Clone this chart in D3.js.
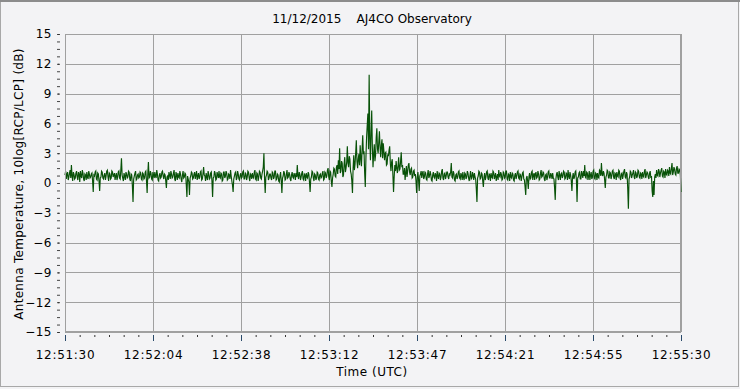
<!DOCTYPE html>
<html>
<head>
<meta charset="utf-8">
<script src="https://cdn.jsdelivr.net/npm/d3@7"></script>
<style>
  body { margin: 0; background: #f3f3f5; }
  svg { display: block; }
  text { font-family: "DejaVu Sans", Verdana, sans-serif; fill: #000; }
</style>
</head>
<body>
<script>
var chartWidth = 740;
var chartHeight = 389;

var chartTitle = "11/12/2015    AJ4CO Observatory";
var xTitle = "Time (UTC)";
var yTitle = "Antenna Temperature, 10log[RCP/LCP] (dB)";

// seconds after 12:51:30, one sample every quarter second
var sampleStep = 0.25;
var xTickLabels = ["12:51:30", "12:52:04", "12:52:38", "12:53:12", "12:53:47", "12:54:21", "12:54:55", "12:55:30"];
var yTickValues = [15, 12, 9, 6, 3, 0, -3, -6, -9, -12, -15];

// 10log[RCP/LCP] in dB (one row = 10 s)
var antTemp = [
  0.8,1.2,0.4,0.9,1.1,0.3,0.6,1.0,1.3,0.5,1.8,0.7,0.2,1.1,0.9,0.4,0.5,1.0,1.2,0.6,0.3,1.1,0.9,0.1,1.2,0.7,0.5,1.3,1.0,0.4,0.2,0.9,0.8,0.3,1.1,0.6,0.4,1.2,0.9,0.5,
  0.6,0.9,1.0,0.2,-0.9,0.8,0.7,1.1,1.2,0.4,0.3,1.0,0.9,0.2,-0.8,0.5,0.6,1.2,1.1,0.5,0.4,0.8,1.0,0.3,0.7,1.2,1.3,0.6,0.2,1.0,0.9,0.4,0.5,1.2,1.1,0.6,0.8,1.0,0.3,0.7,
  1.0,0.3,0.6,1.1,1.2,0.5,0.4,1.3,2.5,0.8,0.5,0.2,1.0,0.7,0.3,1.1,0.9,0.5,0.6,1.2,1.1,0.4,0.2,0.9,0.8,-0.3,-1.9,0.4,0.7,1.0,1.2,0.3,0.4,0.8,0.9,0.5,0.6,1.1,1.0,0.4,
  0.3,1.0,0.9,0.4,0.5,1.1,1.2,0.2,-1.0,0.9,2.1,0.5,0.6,1.2,1.0,0.4,0.3,1.1,0.8,0.5,1.1,0.7,0.5,1.3,0.9,0.3,0.2,0.8,1.0,0.5,0.6,1.1,1.2,0.7,0.4,0.9,0.8,0.2,-0.5,0.6,
  0.7,0.3,1.1,0.8,0.4,1.2,0.9,0.5,0.6,1.0,1.3,0.4,0.2,1.1,0.8,0.3,1.0,0.6,0.5,1.2,0.9,0.4,0.1,0.8,1.2,0.5,0.6,1.0,0.9,-0.2,-1.4,0.7,0.4,0.1,-1.2,0.5,0.7,1.1,1.0,0.4,
  0.5,0.9,1.1,0.4,0.8,1.2,0.3,0.7,1.0,0.4,0.6,1.1,1.2,0.3,0.4,0.9,1.6,0.8,0.7,0.2,1.0,0.6,0.3,1.2,0.9,0.4,0.5,1.0,1.1,0.2,-1.4,0.5,0.6,1.2,1.0,0.3,0.4,1.1,0.8,0.5,
  1.2,0.6,0.5,1.0,0.9,0.2,0.3,1.1,1.1,0.5,0.7,1.2,1.0,0.3,0.4,0.9,0.8,0.4,1.3,0.7,0.2,-0.2,-0.9,0.4,0.7,1.0,1.1,0.3,0.5,1.2,0.9,0.4,0.3,0.8,1.0,0.5,0.6,1.1,1.2,0.4,
  0.4,1.0,0.9,0.3,0.6,1.2,1.1,0.5,0.2,0.9,0.8,0.4,1.0,0.6,0.5,1.1,1.3,0.4,0.3,1.0,0.9,0.2,0.6,1.2,1.1,0.5,0.4,0.9,1.2,1.6,3.0,0.4,-1.0,0.6,0.8,1.2,1.1,0.3,0.5,0.9,
  0.9,0.5,0.3,1.1,1.0,0.4,0.6,1.2,1.2,0.3,0.4,0.9,0.8,0.2,0.1,0.7,1.1,0.2,-1.0,0.5,0.7,1.2,1.0,0.3,0.4,0.9,1.3,0.5,0.6,1.1,0.9,0.4,0.2,0.8,1.1,0.6,0.5,1.0,0.8,0.3,
  1.0,0.6,1.8,0.7,0.4,1.1,0.9,0.3,0.6,1.0,1.2,0.4,0.3,0.9,0.8,0.2,1.0,0.6,0.5,1.1,0.9,0.1,-0.9,0.4,0.6,1.2,1.1,0.5,0.2,0.9,0.8,0.3,0.5,1.1,1.0,0.4,0.3,0.8,0.9,0.5,
  0.6,1.0,1.2,0.3,0.4,1.1,1.0,0.5,0.7,1.3,1.5,0.6,0.3,1.2,1.1,0.2,-0.4,0.5,0.9,1.5,1.4,0.7,0.6,1.6,1.8,0.9,2.3,1.4,3.5,1.0,1.2,2.2,2.0,0.6,0.8,1.9,2.6,1.1,1.5,2.1,
  3.7,2.0,1.6,2.7,2.4,1.2,0.9,0.2,-1.0,1.5,2.8,1.3,1.9,3.0,4.3,2.2,1.5,2.4,2.9,1.8,3.8,2.5,1.7,3.4,4.8,2.9,3.2,1.0,-0.4,2.6,4.6,5.8,7.0,3.4,10.9,4.5,2.3,5.1,7.3,3.6,
  1.6,2.9,3.9,2.2,2.8,4.6,5.5,3.4,3.0,4.1,5.2,3.6,2.6,3.8,4.4,2.5,4.0,3.2,2.3,3.0,3.1,1.8,1.9,2.9,2.7,3.3,3.7,2.0,1.2,2.1,2.4,0.8,-0.9,0.6,1.8,1.2,2.2,1.5,1.0,1.7,
  2.6,1.3,1.4,2.2,3.1,1.6,1.8,0.9,0.9,1.5,0.3,1.0,1.7,0.6,1.2,1.8,2.0,1.1,0.8,1.4,1.5,0.5,0.6,1.2,1.3,0.7,0.9,0.2,-1.0,0.6,1.1,0.3,-0.8,0.7,0.9,1.2,0.5,1.0,1.2,0.4,
  0.6,1.1,1.0,0.4,0.3,0.9,1.3,0.5,0.7,1.2,0.9,0.3,0.2,0.8,1.1,0.6,0.5,1.0,0.8,0.2,1.2,0.7,0.4,1.0,0.9,0.3,0.6,1.2,1.4,0.5,0.3,0.9,1.0,0.4,0.7,1.1,1.1,0.6,0.4,0.9,
  0.8,1.1,2.0,0.6,0.5,1.2,1.0,0.3,0.2,0.8,0.9,0.4,0.6,1.1,1.2,0.5,0.4,1.0,0.8,0.3,1.1,0.6,0.3,1.0,0.9,0.4,0.6,1.2,1.0,0.5,0.2,0.7,1.2,0.4,0.5,1.1,0.8,0.3,1.0,0.6,
  0.4,-0.6,-1.9,0.5,0.7,1.2,1.1,0.4,0.5,1.0,0.9,0.2,-0.4,0.6,1.0,0.3,0.6,1.1,1.2,0.5,0.3,0.9,0.8,0.2,1.0,0.6,0.5,1.2,1.1,0.4,0.7,1.0,0.2,0.6,0.9,0.3,1.3,0.7,0.6,1.1,
  0.9,0.3,0.4,1.1,1.0,0.5,0.6,1.2,1.2,0.4,0.3,0.9,0.8,0.2,1.1,0.6,0.5,1.0,0.9,0.3,0.2,0.8,1.0,0.4,0.7,1.1,1.2,0.5,0.4,0.9,0.8,0.2,0.6,1.0,1.1,0.4,0.3,-0.4,-1.2,0.5,
  0.7,0.2,-0.6,0.6,1.0,0.4,0.5,1.1,1.2,0.3,0.8,1.0,0.3,0.9,1.1,0.5,0.6,1.2,0.9,0.3,0.4,1.0,1.3,0.6,0.7,1.1,1.0,0.4,0.2,0.8,0.9,0.3,0.6,1.1,1.2,0.5,0.5,1.0,0.8,0.4,
  1.0,0.5,0.4,-0.5,-1.7,0.4,0.9,1.1,0.6,0.3,1.2,0.8,0.3,0.9,1.0,0.5,0.7,1.2,1.1,0.4,0.5,1.0,0.9,0.3,1.3,0.7,0.4,1.1,0.8,0.2,-0.8,0.6,1.0,0.4,0.6,1.1,1.2,0.3,-1.9,0.5,
  0.6,1.0,1.1,0.4,0.4,1.2,0.9,0.5,1.2,0.7,1.8,0.6,0.5,1.1,1.0,0.3,0.7,1.2,0.3,0.8,1.1,0.4,0.6,1.2,1.3,0.5,0.4,1.0,0.9,0.3,1.0,0.6,0.5,1.3,1.2,0.7,2.0,0.9,0.7,1.2,
  1.0,0.3,-0.5,0.6,0.8,1.3,1.2,0.5,0.5,1.1,1.0,0.4,0.7,1.2,1.3,0.6,0.4,1.0,0.9,0.3,1.1,0.7,0.6,1.3,1.2,0.5,0.3,0.9,1.0,0.4,0.8,1.2,1.4,0.6,0.5,1.1,0.9,-0.6,-2.6,0.4,
  0.6,1.2,1.1,0.5,0.8,1.0,1.3,0.6,0.4,1.1,1.0,0.5,0.7,1.3,1.2,0.6,0.5,1.0,0.9,0.4,1.1,0.7,0.6,1.2,1.4,0.5,0.8,1.1,1.0,0.6,0.4,1.0,1.2,0.5,0.7,-0.8,-1.4,0.2,-1.2,0.6,
  0.9,0.5,1.3,0.8,0.7,1.4,1.2,0.6,1.0,1.3,1.5,0.7,0.6,1.2,1.1,0.5,1.4,0.9,0.8,1.3,1.2,0.7,1.6,1.0,0.9,1.5,2.0,0.8,1.1,1.6,1.4,0.9,0.8,1.5,1.7,1.0,1.0,1.4,1.3,0.8,
  -0.9
];

var plotLeft = 65, plotRight = 681, plotTop = 34, plotBottom = 332;
var totalSec = 240;

var svg = d3.select("body").append("svg").attr("width", chartWidth).attr("height", chartHeight);

// outer frame
svg.append("rect").attr("x", 0.5).attr("y", 0.5).attr("width", chartWidth - 2).attr("height", chartHeight - 3)
  .attr("fill", "#f3f3f5").attr("stroke", "#a8a8a8");
svg.append("line").attr("x1", 0).attr("x2", chartWidth).attr("y1", 1).attr("y2", 1)
  .attr("stroke", "#8c8c8c").attr("stroke-width", 2);

var x = d3.scaleLinear().domain([0, totalSec]).range([plotLeft, plotRight]);
var y = d3.scaleLinear().domain([-15, 15]).range([plotBottom, plotTop]);
// spread the samples over the whole time span
var sampleX = d3.scaleLinear().domain([0, antTemp.length - 1]).range([0, totalSec]);

var majorSec = xTickLabels.map(function(d, i) { return i * totalSec / (xTickLabels.length - 1); });
var minorSec = d3.range(0, (xTickLabels.length - 1) * 6 + 1).map(function(i) { return i * totalSec / ((xTickLabels.length - 1) * 6); });
var minorDb = d3.range(-15, 15.001, 0.75);

// grid
var grid = svg.append("g").attr("stroke", "#a0a0a0").attr("stroke-width", 1).attr("shape-rendering", "crispEdges");
grid.selectAll(".vg").data(majorSec).enter().append("line")
  .attr("x1", function(d) { return Math.round(x(d)) + 0.5; })
  .attr("x2", function(d) { return Math.round(x(d)) + 0.5; })
  .attr("y1", plotTop).attr("y2", plotBottom);
grid.selectAll(".hg").data(yTickValues).enter().append("line")
  .attr("x1", plotLeft).attr("x2", plotRight)
  .attr("y1", function(d) { return Math.round(y(d)) + 0.5; })
  .attr("y2", function(d) { return Math.round(y(d)) + 0.5; });

// trace
var line = d3.line()
  .x(function(d, i) { return x(sampleX(i)); })
  .y(function(d) { return y(d); });
svg.append("path").datum(antTemp)
  .attr("d", line)
  .attr("fill", "none")
  .attr("stroke", "#085208")
  .attr("stroke-width", 1.15);

// x axis: minor then major ticks with labels
var xMinor = svg.append("g").attr("transform", "translate(0," + (plotBottom + 3) + ")")
  .call(d3.axisBottom(x).tickValues(minorSec).tickSize(2).tickFormat(""));
xMinor.select(".domain").remove();
xMinor.selectAll("line").attr("stroke", "#333");

var xAxis = svg.append("g").attr("transform", "translate(0," + (plotBottom + 3) + ")")
  .call(d3.axisBottom(x).tickValues(majorSec).tickSize(6).tickPadding(9)
    .tickFormat(function(d, i) { return xTickLabels[i]; }));
xAxis.select(".domain").remove();
xAxis.selectAll("line").attr("stroke", "#2a4a6a");
xAxis.selectAll("text").attr("font-size", 12).attr("letter-spacing", 0.7)
  .style("font-family", "DejaVu Sans, Verdana, sans-serif");

// y axis: minor dashes, major dots with labels
var yMinor = svg.append("g").attr("transform", "translate(60,0)")
  .call(d3.axisLeft(y).tickValues(minorDb).tickSize(3).tickFormat(""));
yMinor.select(".domain").remove();
yMinor.selectAll("line").attr("stroke", "#444");

var yAxis = svg.append("g").attr("transform", "translate(59,0)")
  .call(d3.axisLeft(y).tickValues(yTickValues).tickSize(1).tickPadding(6));
yAxis.select(".domain").remove();
yAxis.selectAll("line").attr("stroke", "#333");
yAxis.selectAll("text").attr("font-size", 12).attr("letter-spacing", 0.5)
  .style("font-family", "DejaVu Sans, Verdana, sans-serif");

// plot border
svg.append("rect").attr("x", plotLeft + 0.5).attr("y", plotTop + 0.5)
  .attr("width", plotRight - plotLeft - 1).attr("height", plotBottom - plotTop - 1)
  .attr("fill", "none").attr("stroke", "#a0a0a0").attr("shape-rendering", "crispEdges");

// titles
svg.append("text").attr("x", 372).attr("y", 23).attr("text-anchor", "middle")
  .attr("font-size", 12).attr("xml:space", "preserve").text(chartTitle);
svg.append("text").attr("x", 372).attr("y", 376).attr("text-anchor", "middle")
  .attr("font-size", 12).attr("letter-spacing", 0.5).text(xTitle);
svg.append("text").attr("transform", "translate(23,184) rotate(-90)").attr("text-anchor", "middle")
  .attr("font-size", 12).attr("letter-spacing", 0.3).text(yTitle);
</script>
</body>
</html>
